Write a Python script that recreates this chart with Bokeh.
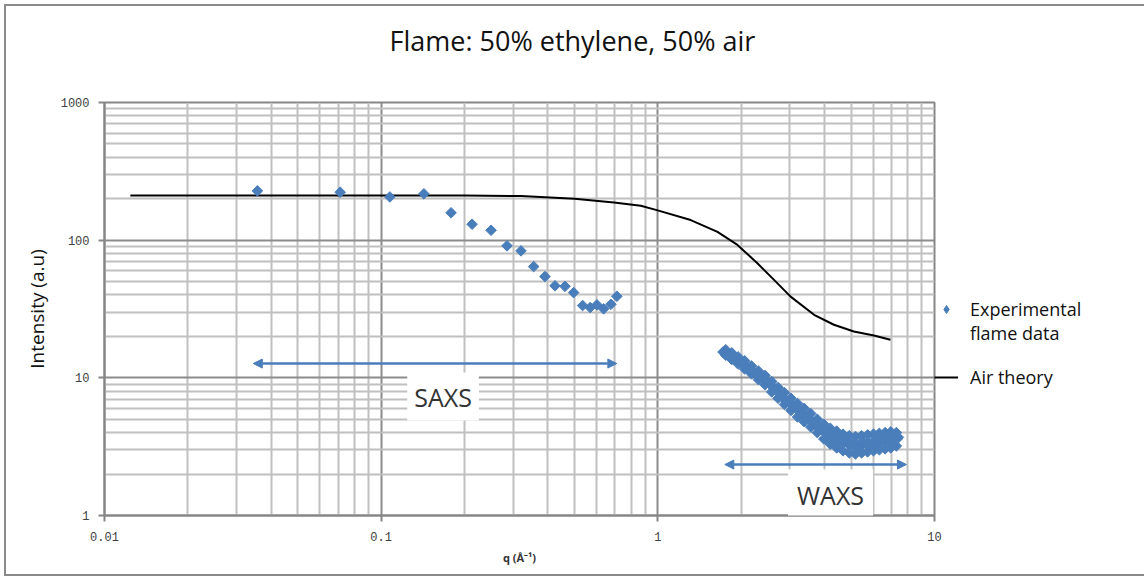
from bokeh.plotting import figure
from bokeh.models import (FixedTicker, CustomJSTickFormatter, Legend, LegendItem,
                          Arrow, NormalHead, Label, Title)
from bokeh.embed import file_html
from bokeh.resources import INLINE
import numpy as np

# ---------------- data ----------------
saxs_q = [0.0357, 0.0711, 0.1075, 0.1427, 0.1789, 0.2131, 0.2496, 0.2850, 0.3202, 0.3558,
          0.3909, 0.4249, 0.4617, 0.4962, 0.5349, 0.5695, 0.6024, 0.6368, 0.6767, 0.7112]
saxs_i = [228, 223, 206, 217, 158, 130.5, 118, 90.9, 83.6, 64.3,
          54.4, 46.6, 46.2, 41.6, 33.5, 32.4, 33.9, 31.7, 34.2, 39.1]

waxs_q = [1.72, 1.75, 1.78, 1.81, 1.84, 1.87, 1.90, 1.93, 1.96, 1.99, 2.02, 2.05, 2.09, 2.13,
          2.17, 2.21, 2.25, 2.29, 2.33, 2.37, 2.41, 2.45, 2.50, 2.55, 2.60, 2.65, 2.70, 2.75,
          2.80, 2.85, 2.90, 2.95, 3.00, 3.06, 3.12, 3.18, 3.24, 3.30, 3.36, 3.42, 3.48, 3.55,
          3.62, 3.69, 3.76, 3.83, 3.90, 3.97, 4.05, 4.13, 4.21, 4.29, 4.37, 4.45, 4.53, 4.62,
          4.71, 4.80, 4.89, 4.98, 5.07, 5.16, 5.26, 5.36, 5.46, 5.56, 5.66, 5.77, 5.88, 5.99,
          6.10, 6.21, 6.33, 6.45, 6.57, 6.69, 6.81, 6.94, 7.07, 7.20, 7.33, 7.40]
waxs_i = [15.4, 15.0, 14.9, 14.4, 14.3, 13.8, 13.9, 13.3, 13.1, 12.9, 12.6, 12.5, 12.0, 11.8,
          11.2, 11.0, 10.7, 10.5, 10.1, 9.9, 9.6, 9.5, 9.3, 8.9, 8.6, 8.3, 8.0, 7.6,
          7.4, 7.1, 6.9, 6.7, 6.6, 6.3, 6.2, 5.9, 5.8, 5.6, 5.4, 5.3, 5.1, 5.0,
          4.8, 4.6, 4.5, 4.4, 4.2, 4.1, 4.0, 3.9, 3.85, 3.7, 3.65, 3.55, 3.5, 3.45,
          3.4, 3.45, 3.3, 3.35, 3.25, 3.3, 3.2, 3.3, 3.25, 3.35, 3.3, 3.4, 3.3, 3.4,
          3.35, 3.45, 3.4, 3.5, 3.45, 3.55, 3.5, 3.6, 3.55, 3.65, 3.6, 3.7]

waxs_edge_q = [1.76, 1.85, 1.95, 2.06, 2.18, 2.31, 2.44, 2.58, 2.72, 2.87, 3.03, 3.20, 3.38, 3.57,
               3.77, 3.98, 4.20, 4.43, 4.67, 4.92, 5.18, 5.45, 5.73, 6.02, 6.32, 6.63, 6.95, 7.28]
waxs_upper_i = [16.0, 15.2, 14.2, 13.3, 12.2, 11.2, 10.4, 9.4, 8.5, 7.8, 7.1, 6.5, 6.0, 5.5,
                5.0, 4.6, 4.3, 4.1, 3.9, 3.8, 3.75, 3.8, 3.85, 3.9, 3.95, 4.0, 4.05, 4.0]
waxs_lower_i = [14.6, 13.6, 12.6, 11.6, 10.7, 9.7, 8.9, 7.9, 7.1, 6.4, 5.8, 5.2, 4.8, 4.4,
                4.0, 3.6, 3.3, 3.1, 2.95, 2.85, 2.8, 2.85, 2.9, 2.95, 3.0, 3.05, 3.1, 3.2]

air_q = [0.0124, 0.02, 0.05, 0.118, 0.2, 0.32, 0.5, 0.694, 0.868, 0.984, 1.315, 1.643,
         1.94, 2.29, 2.63, 3.02, 3.67, 4.33, 5.11, 6.04, 6.93]
air_i = [211, 211, 211, 211, 211, 209, 200, 188, 178, 166, 140, 115,
         92.4, 68, 51.5, 38.9, 28.7, 24.3, 21.7, 20.3, 18.9]

x_ticks = [0.01, 0.1, 1, 10]
y_ticks = [1, 10, 100, 1000]

BLUE = "#4A7EBB"
FONT = "Open Sans"

p = figure(width=1136, height=568, frame_width=830, frame_height=413,
           x_axis_type="log", y_axis_type="log",
           x_range=(0.01, 10), y_range=(1, 1000),
           output_backend="svg", toolbar_location=None,
           min_border_left=98, min_border_right=208, min_border_top=96, min_border_bottom=59)

# spacer between frame and title (closest to the frame)
p.add_layout(Title(text=" ", text_font_size="20px", standoff=20), "above")
p.title = Title(text="Flame: 50% ethylene, 50% air", align="left", offset=285,
                vertical_align="bottom", standoff=0,
                text_font=FONT, text_font_size="27px", text_font_style="normal",
                text_color="#111111")

xminor = [m * d for d in [0.01, 0.1, 1] for m in range(2, 10)]
yminor = [m * d for d in [1, 10, 100] for m in range(2, 10)]
p.xaxis.ticker = FixedTicker(ticks=x_ticks, minor_ticks=xminor)
p.yaxis.ticker = FixedTicker(ticks=y_ticks, minor_ticks=yminor)
p.xaxis.formatter = CustomJSTickFormatter(code="return tick.toString()")
p.yaxis.formatter = CustomJSTickFormatter(code="return tick.toString()")

for ax in (p.xaxis, p.yaxis):
    ax.axis_line_color = "#868686"
    ax.axis_line_width = 2
    ax.major_tick_line_color = "#868686"
    ax.major_tick_line_width = 2
    ax.major_tick_in = 0
    ax.major_tick_out = 6
    ax.minor_tick_in = 0
    ax.minor_tick_out = 0
    ax.major_label_text_font = "Liberation Mono"
    ax.major_label_text_font_size = "12px"
    ax.major_label_text_color = "#404040"

p.xaxis.major_label_standoff = 10
p.yaxis.major_label_standoff = 9
p.xaxis.axis_label = "q (Å⁻¹)"
p.xaxis.axis_label_text_font = FONT
p.xaxis.axis_label_text_font_size = "11px"
p.xaxis.axis_label_text_font_style = "bold"
p.xaxis.axis_label_text_color = "#333333"
p.xaxis.axis_label_standoff = 6
p.yaxis.axis_label = "Intensity (a.u)"
p.yaxis.axis_label_text_font = FONT
p.yaxis.axis_label_text_font_size = "19px"
p.yaxis.axis_label_text_font_style = "normal"
p.yaxis.axis_label_text_color = "#111111"
p.yaxis.axis_label_standoff = 8

for g in (p.xgrid, p.ygrid):
    g.grid_line_color = "#8c8c8c"
    g.grid_line_width = 2
    g.minor_grid_line_color = "#c0c0c0"
    g.minor_grid_line_width = 2

p.outline_line_color = "#868686"
p.outline_line_width = 2
p.background_fill_color = "white"
p.border_fill_color = "white"
p.styles = {"border": "2px solid #8a8a8a", "margin": "4px"}

# theory line
air = p.line(air_q, air_i, line_color="black", line_width=2)

# experimental data (rotated squares = diamonds)
mk = dict(marker="square", angle=np.pi / 4, size=7.5, fill_color=BLUE, line_color=BLUE)
p.scatter(saxs_q, saxs_i, **mk)
p.scatter(waxs_edge_q, waxs_upper_i, **mk)
p.scatter(waxs_edge_q, waxs_lower_i, **mk)
p.scatter(waxs_q, waxs_i, **mk)
# hidden renderers used only for legend swatches
exp_leg = p.scatter(saxs_q, saxs_i, marker="diamond", size=11, fill_color=BLUE,
                    line_color=BLUE, visible=False)
blank = p.line(air_q, air_i, line_alpha=0, visible=False)

# annotations
head = dict(size=9, fill_color=BLUE, line_color=BLUE)
p.add_layout(Arrow(x_start=0.0345, y_start=12.7, x_end=0.711, y_end=12.7,
                   start=NormalHead(**head), end=NormalHead(**head),
                   line_color=BLUE, line_width=2.5))
p.add_layout(Arrow(x_start=1.746, y_start=2.345, x_end=7.92, y_end=2.345,
                   start=NormalHead(**head), end=NormalHead(**head),
                   line_color=BLUE, line_width=2.5))
p.add_layout(Label(x=0.1674, y=7.31, text="SAXS", text_align="center", text_baseline="middle",
                   text_font=FONT, text_font_size="25px", text_color="#333333",
                   background_fill_color="white", padding=7))
p.add_layout(Label(x=4.21, y=1.40, text="WAXS", text_align="center", text_baseline="middle",
                   text_font=FONT, text_font_size="25px", text_color="#333333",
                   background_fill_color="white", padding=9))

legend = Legend(items=[LegendItem(label="Experimental", renderers=[exp_leg]),
                       LegendItem(label="flame data", renderers=[blank]),
                       LegendItem(label=" ", renderers=[blank]),
                       LegendItem(label="Air theory", renderers=[air])],
                location="top_left", glyph_width=24, glyph_height=20, label_standoff=12,
                spacing=0, padding=20, margin=0,
                title=" ", title_text_font_size="10px", title_standoff=184,
                border_line_color=None, background_fill_alpha=0, inactive_fill_alpha=0,
                label_text_font=FONT, label_text_font_size="18px", label_text_color="#111111")
p.add_layout(legend, "right")

open("out.html", "w").write(file_html(p, INLINE))
